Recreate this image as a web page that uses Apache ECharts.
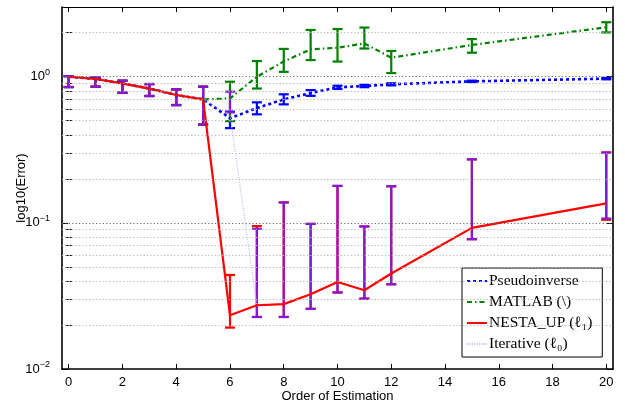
<!DOCTYPE html>
<html>
<head>
<meta charset="utf-8">
<script src="https://cdn.jsdelivr.net/npm/echarts@6/dist/echarts.min.js"></script>
<style>
  html, body { margin: 0; padding: 0; background: #fff; }
  #chart { width: 625px; height: 405px; }
</style>
</head>
<body>
<div id="chart"></div>
<script>
// order of estimation
const orders = [0, 1, 2, 3, 4, 5, 6, 7, 8, 9, 10, 11, 12, 15, 20]

// Pseudoinverse
const pinv = [1.0, 0.965, 0.90, 0.83, 0.75, 0.70, 0.52, 0.61, 0.70, 0.773, 0.846, 0.864, 0.887, 0.93, 0.97]
const pinvLo = [0.85, 0.854, 0.777, 0.738, 0.64, 0.47, 0.445, 0.553, 0.647, 0.74, 0.825, 0.848, 0.872, 0.92, 0.96]
const pinvHi = [1.01, 0.984, 0.939, 0.891, 0.82, 0.854, 0.577, 0.668, 0.758, 0.81, 0.868, 0.88, 0.902, 0.94, 0.98]

// MATLAB (\)
const mldiv = [1.0, 0.965, 0.90, 0.83, 0.75, 0.70, 0.71, 1.0, 1.27, 1.54, 1.58, 1.69, 1.35, 1.65, 2.18]
const mldivLo = [0.85, 0.854, 0.777, 0.738, 0.64, 0.47, 0.497, 0.83, 1.08, 1.30, 1.27, 1.56, 1.06, 1.46, 2.01]
const mldivHi = [1.01, 0.984, 0.939, 0.891, 0.82, 0.854, 0.924, 1.28, 1.55, 2.09, 2.12, 2.17, 1.50, 1.81, 2.36]

// NESTA_UP (l1)
const nesta = [1.0, 0.965, 0.90, 0.83, 0.75, 0.70, 0.0233, 0.0273, 0.0278, 0.0325, 0.0394, 0.0346, 0.045, 0.0924, 0.136]
const nestaLo = [0.85, 0.854, 0.777, 0.738, 0.64, 0.47, 0.0192, 0.0227, 0.0227, 0.0258, 0.0334, 0.0303, 0.038, 0.0773, 0.105]
const nestaHi = [1.01, 0.984, 0.939, 0.891, 0.82, 0.854, 0.044, 0.095, 0.138, 0.0984, 0.179, 0.0945, 0.178, 0.272, 0.303]

// Iterative (l0)
const iter = [1.0, 0.965, 0.90, 0.83, 0.75, 0.70, 0.55, 0.0273, 0.0278, 0.0325, 0.0394, 0.0346, 0.045, 0.0924, 0.136]
const iterLo = [0.85, 0.854, 0.777, 0.738, 0.64, 0.47, 0.57, 0.0227, 0.0227, 0.0258, 0.0334, 0.0303, 0.038, 0.0773, 0.107]
const iterHi = [1.01, 0.984, 0.939, 0.891, 0.82, 0.854, 0.79, 0.091, 0.138, 0.0984, 0.179, 0.0945, 0.178, 0.272, 0.303]

// axis ticks
const xTicks = [0, 2, 4, 6, 8, 10, 12, 14, 16, 18, 20]
const yMajor = [0.01, 0.1, 1]
const yMinor = [0.02, 0.03, 0.04, 0.05, 0.06, 0.07, 0.08, 0.09, 0.2, 0.3, 0.4, 0.5, 0.6, 0.7, 0.8, 0.9, 2]

const names = ['Pseudoinverse', 'MATLAB (\\)', 'NESTA_UP (ℓ₁)', 'Iterative (ℓ₀)']
const colors = {
  pinv: '#0000ff',
  mldiv: '#008000',
  nesta: '#ff0000',
  iter: '#c9aef2',
  iterBar: '#8418d8'
}

const myChart = echarts.init(document.getElementById('chart'), null, { renderer: 'canvas' })

const pairs = (ys) => orders.map((x, i) => [x, ys[i]])
const bars = (lo, hi) => orders.map((x, i) => [x, lo[i], hi[i]])

// error bar drawn through the axis scales
function errorBar (color) {
  return function (params, api) {
    const x = api.value(0)
    const top = api.coord([x, api.value(2)])
    const bot = api.coord([x, api.value(1)])
    const w = 5
    const style = { stroke: color, lineWidth: 2.2 }
    return {
      type: 'group',
      children: [
        { type: 'line', shape: { x1: top[0], y1: top[1], x2: bot[0], y2: bot[1] }, style },
        { type: 'line', shape: { x1: top[0] - w, y1: top[1], x2: top[0] + w, y2: top[1] }, style },
        { type: 'line', shape: { x1: bot[0] - w, y1: bot[1], x2: bot[0] + w, y2: bot[1] }, style }
      ]
    }
  }
}

const font = 'Liberation Sans, Arial, sans-serif'
const gridLines = yMinor.map(v => ({ yAxis: v, lineStyle: { color: '#b4b4b4' } }))
  .concat(yMajor.slice(1).map(v => ({ yAxis: v, lineStyle: { color: '#6a6a6a' } })))

const logAxis = (position, extra) => Object.assign({
  type: 'log',
  logBase: 10,
  min: 0.01,
  max: 3,
  position: position,
  splitLine: { show: false },
  minorTick: { show: false },
  axisLabel: { show: false },
  axisLine: { show: false }
}, extra)

const option = {
  animation: false,
  backgroundColor: '#fff',
  grid: { left: 62, right: 12, top: 7, bottom: 36, outerBoundsMode: 'none' },
  legend: {
    data: names,
    orient: 'vertical',
    left: 462,
    top: 268,
    width: 140,
    padding: [5, 10, 5, 4],
    itemGap: 5,
    itemWidth: 20,
    itemHeight: 14,
    backgroundColor: '#fff',
    borderColor: '#000',
    borderWidth: 1,
    borderRadius: 0,
    itemStyle: { opacity: 0 },
    textStyle: { fontFamily: 'Liberation Serif, DejaVu Serif, serif', fontSize: 15.5, color: '#000', padding: [0, 0, 0, -3] }
  },
  xAxis: [
    {
      type: 'value',
      min: -0.25,
      max: 20.25,
      position: 'bottom',
      name: 'Order of Estimation',
      nameLocation: 'middle',
      nameGap: 21,
      nameMoveOverlap: false,
      nameTextStyle: { fontFamily: font, fontSize: 13, color: '#000' },
      splitLine: { show: false },
      axisLine: { onZero: false, lineStyle: { color: '#000', width: 1.6 } },
      axisTick: { inside: true, length: 5, customValues: xTicks, lineStyle: { color: '#000' } },
      axisLabel: { customValues: xTicks, fontFamily: font, fontSize: 13, color: '#000', margin: 7 }
    },
    {
      type: 'value',
      min: -0.25,
      max: 20.25,
      position: 'top',
      splitLine: { show: false },
      axisLine: { onZero: false, lineStyle: { color: '#000', width: 1.2 } },
      axisTick: { inside: true, length: 5, customValues: xTicks, lineStyle: { color: '#000' } },
      axisLabel: { show: false }
    }
  ],
  yAxis: [
    logAxis('left', {
      name: 'log10(Error)',
      nameLocation: 'middle',
      nameGap: 34,
      nameMoveOverlap: false,
      nameTextStyle: { fontFamily: font, fontSize: 13, color: '#000' },
      axisLine: { show: true, onZero: false, lineStyle: { color: '#000', width: 1.6 } },
      axisTick: { inside: true, length: 6, customValues: yMajor, lineStyle: { color: '#000' } },
      axisLabel: {
        show: true,
        customValues: yMajor,
        margin: 12,
        fontFamily: font,
        fontSize: 13,
        color: '#000',
        formatter: v => '10{e|' + Math.round(Math.log10(v)).toString().replace('-', '−') + '}',
        rich: {
          e: { fontSize: 9, fontFamily: font, color: '#000', padding: [0, 0, 9, 0] }
        }
      }
    }),
    logAxis('left', {
      axisTick: { inside: true, length: 3, customValues: yMinor, lineStyle: { color: '#000' } }
    }),
    logAxis('right', {
      axisLine: { show: true, onZero: false, lineStyle: { color: '#000', width: 1.6 } },
      axisTick: { inside: true, length: 6, customValues: yMajor, lineStyle: { color: '#000' } }
    }),
    logAxis('right', {
      axisTick: { inside: true, length: 3, customValues: yMinor, lineStyle: { color: '#000' } }
    })
  ],
  series: [
    {
      name: 'grid',
      type: 'line',
      data: [],
      silent: true,
      markLine: {
        silent: true,
        symbol: 'none',
        label: { show: false },
        lineStyle: { type: [1.2, 2.2], width: 1 },
        data: gridLines
      }
    },
    {
      name: names[0],
      type: 'line',
      data: pairs(pinv),
      symbol: 'none',
      color: colors.pinv,
      lineStyle: { color: colors.pinv, width: 2.6, type: [3, 3] }
    },
    {
      name: names[1],
      type: 'line',
      data: pairs(mldiv),
      symbol: 'none',
      color: colors.mldiv,
      lineStyle: { color: colors.mldiv, width: 2.2, type: [5, 3, 1.5, 3] }
    },
    {
      name: names[3],
      type: 'line',
      data: pairs(iter),
      symbol: 'none',
      color: colors.iter,
      lineStyle: { color: colors.iter, width: 1.2, type: [1, 1.4] }
    },
    {
      name: names[2],
      type: 'line',
      data: pairs(nesta),
      symbol: 'none',
      color: colors.nesta,
      lineStyle: { color: colors.nesta, width: 2.2 }
    },
    { type: 'custom', renderItem: errorBar(colors.pinv), data: bars(pinvLo, pinvHi), encode: { x: 0, y: [1, 2] }, silent: true },
    { type: 'custom', renderItem: errorBar(colors.mldiv), data: bars(mldivLo, mldivHi), encode: { x: 0, y: [1, 2] }, silent: true },
    { type: 'custom', renderItem: errorBar(colors.nesta), data: bars(nestaLo, nestaHi), encode: { x: 0, y: [1, 2] }, silent: true },
    { type: 'custom', renderItem: errorBar(colors.iterBar), data: bars(iterLo, iterHi), encode: { x: 0, y: [1, 2] }, silent: true }
  ]
}

myChart.setOption(option)
</script>
</body>
</html>
